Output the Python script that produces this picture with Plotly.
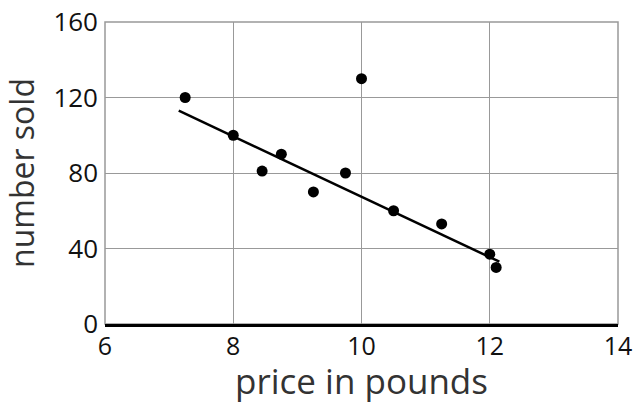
import plotly.graph_objects as go

price = [7.25, 8.0, 8.45, 8.75, 9.25, 9.75, 10.0, 10.5, 11.25, 12.0, 12.1]
sold = [120, 100, 81, 90, 70, 80, 130, 60, 53, 37, 30]

fit_x = [7.15, 12.15]
fit_y = [113, 33]

x_ticks = [6, 8, 10, 12, 14]
y_ticks = [0, 40, 80, 120, 160]

fig = go.Figure()
fig.add_trace(go.Scatter(x=fit_x, y=fit_y, mode="lines",
                         line=dict(color="black", width=2.5), hoverinfo="skip"))
fig.add_trace(go.Scatter(x=price, y=sold, mode="markers",
                         marker=dict(color="black", size=11)))

# gray frame around the plotting area
fig.add_shape(type="rect", xref="x domain", yref="y domain", x0=0, x1=1, y0=0, y1=1,
              line=dict(color="#999", width=1.5), layer="below")

font_family = "Open Sans"
fig.update_layout(
    width=634, height=404,
    margin=dict(l=105, r=16, t=22, b=80),
    paper_bgcolor="white", plot_bgcolor="white",
    showlegend=False,
    font=dict(family=font_family, color="#111"),
    xaxis=dict(range=[6, 14], tickvals=x_ticks, ticktext=[str(v) for v in x_ticks],
               showgrid=True, gridcolor="#999", gridwidth=1.2,
               zeroline=False, showline=True, linecolor="black", linewidth=3,
               tickfont=dict(size=25, color="#111"), automargin=False,
               ticklabelstandoff=-2,
               title=dict(text="price in pounds", font=dict(size=35, color="#333"), standoff=14)),
    yaxis=dict(range=[0, 160], tickvals=y_ticks, ticktext=[str(v) for v in y_ticks],
               showgrid=True, gridcolor="#999", gridwidth=1.2,
               zeroline=False, showline=False,
               tickfont=dict(size=26, color="#111"), automargin=False,
               ticklabelstandoff=6,
               title=dict(text="number sold", font=dict(size=32, color="#333"), standoff=12)),
)

fig.write_html("out.html", config={"displayModeBar": False},
               post_script="document.body.style.margin='0';")
